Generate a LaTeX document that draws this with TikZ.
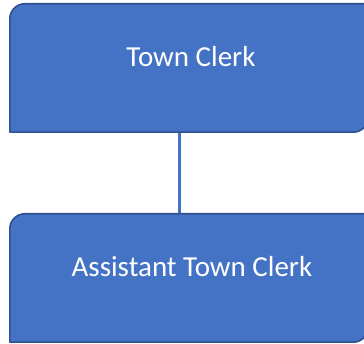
\documentclass[tikz,border=0pt]{standalone}
\usepackage{fontspec}
\setmainfont{Carlito}
\definecolor{boxfill}{HTML}{4472C4}
\definecolor{boxedge}{HTML}{2F528F}
\definecolor{linkcol}{HTML}{4472C4}
\tikzset{
  frame/.style={draw=none, fill=none, inner sep=0pt, minimum width=358pt, minimum height=128pt},
  boxpath/.style={fill=boxfill, draw=boxedge, line width=1.6pt, line join=round},
  title/.style={text=white, font=\fontsize{29}{34}\selectfont, anchor=base, inner sep=0pt},
  link/.style={draw=linkcol, line width=2.2pt}
}
% box outline: top-left and bottom-right corners rounded
\newcommand{\orgbox}[1]{%
  \path[boxpath] (#1.south west) -- ([yshift=-15pt]#1.north west)
    arc[start angle=180, end angle=90, radius=15pt] -- (#1.north east)
    -- ([yshift=15pt]#1.south east)
    arc[start angle=0, end angle=-90, radius=15pt] -- cycle;}
\begin{document}
\begin{tikzpicture}[x=1pt, y=1pt]
  \useasboundingbox (0,0) rectangle (364,344);
  \clip (0,0) rectangle (364,344);
  \node[frame] (tc)  at (189,276) {};
  \node[frame] (atc) at (189,66) {};
  \draw[link] ([xshift=-9.5pt]tc.south) -- ([xshift=-9.5pt]atc.north);
  \orgbox{tc}
  \orgbox{atc}
  \node[title] (tclabel)  at (191,277) {Town Clerk};
  \node[title] (atclabel) at (192,67) {Assistant Town Clerk};
\end{tikzpicture}
\end{document}
